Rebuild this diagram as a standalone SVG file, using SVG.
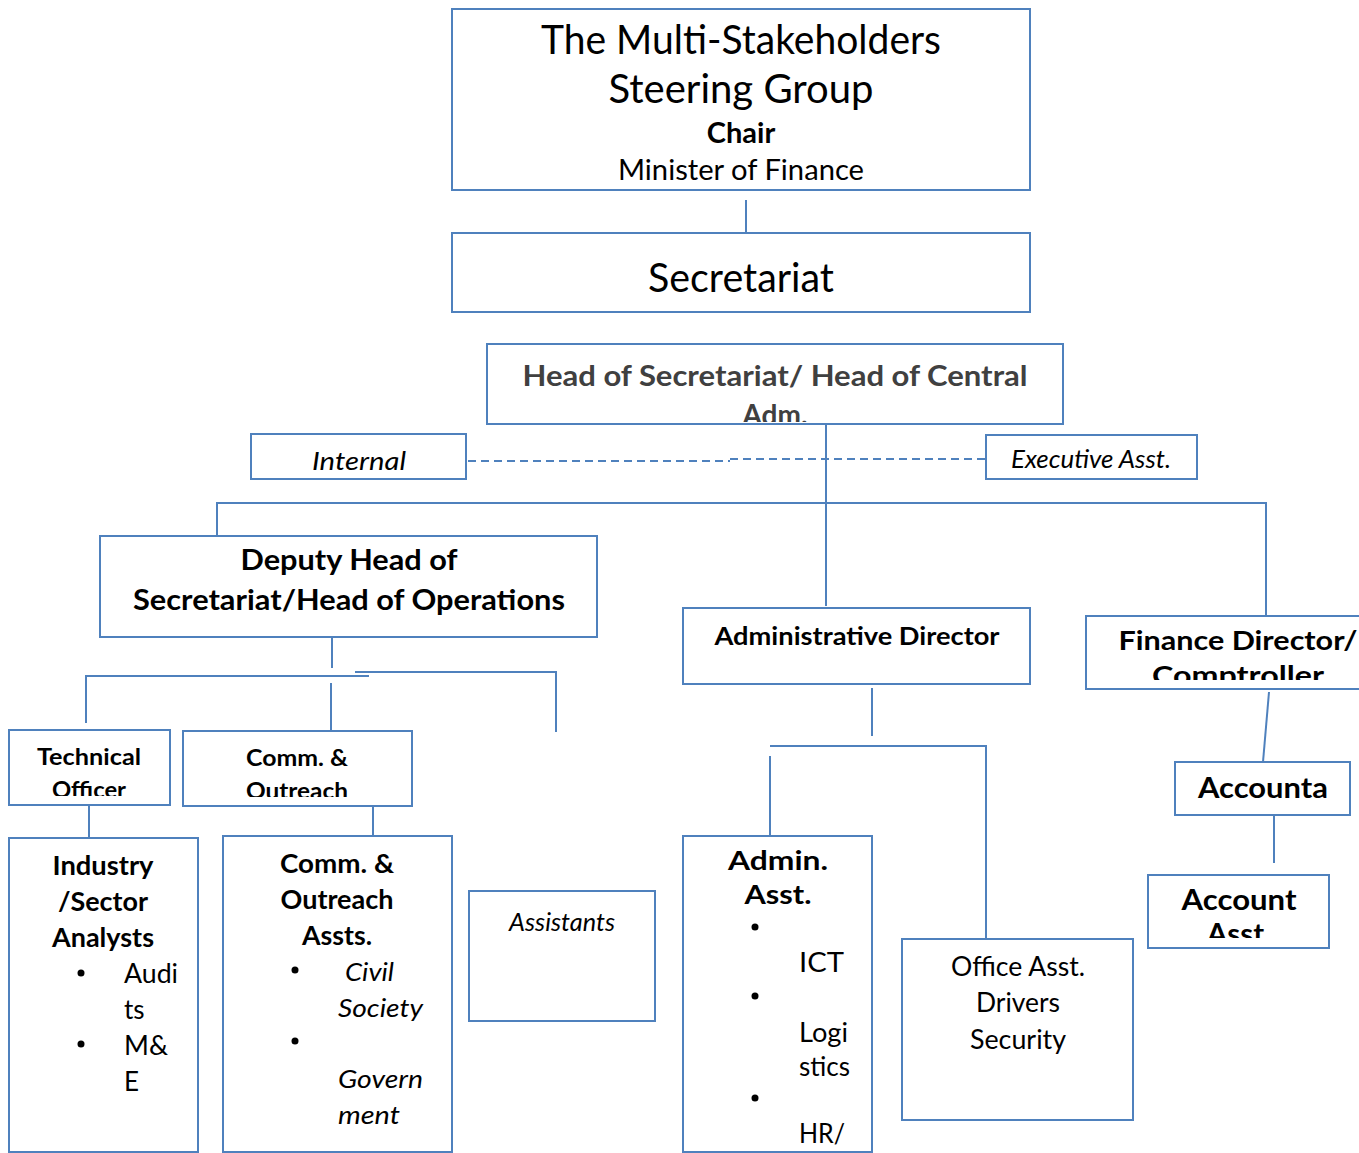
<svg xmlns="http://www.w3.org/2000/svg" width="1359" height="1153" viewBox="0 0 1359 1153">
<style>
.box{fill:#fff;stroke:#4f81bd;stroke-width:2}
.ln{fill:none;stroke:#4f81bd;stroke-width:2}
.dash{fill:none;stroke:#4f81bd;stroke-width:2;stroke-dasharray:8 5}
text{font-family:Lato,"Open Sans","Liberation Sans",sans-serif;fill:#000}
.c{text-anchor:middle}
.b{font-weight:bold}
.i{font-style:italic}
</style>
<defs>
<clipPath id="cHead"><rect x="488" y="345" width="574" height="77"/></clipPath>
<clipPath id="cTech"><rect x="10" y="731" width="159" height="65"/></clipPath>
<clipPath id="cComm"><rect x="184" y="732" width="227" height="65"/></clipPath>
<clipPath id="cFin"><rect x="1087" y="617" width="272" height="63"/></clipPath>
<clipPath id="cAcc"><rect x="1149" y="876" width="179" height="62"/></clipPath>
<clipPath id="cCA"><rect x="224" y="837" width="227" height="304"/></clipPath>
</defs>
<g id="connectors">
<line class="ln" x1="746" y1="200" x2="746" y2="232"/>
<line class="ln" x1="826" y1="421" x2="826" y2="606"/>
<polyline class="dash" points="468,461 730,461"/>
<polyline class="dash" points="730,459 985,459"/>
<polyline class="ln" points="217,535 217,503 1266,503 1266,616"/>
<line class="ln" x1="332" y1="637" x2="332" y2="668"/>
<polyline class="ln" points="86,723 86,676 369,676"/>
<polyline class="ln" points="355,672 556,672 556,732"/>
<line class="ln" x1="331" y1="683" x2="331" y2="731"/>
<line class="ln" x1="89" y1="806" x2="89" y2="838"/>
<line class="ln" x1="373" y1="806" x2="373" y2="836"/>
<line class="ln" x1="872" y1="688" x2="872" y2="736"/>
<polyline class="ln" points="770,746 986,746 986,939"/>
<line class="ln" x1="770" y1="756" x2="770" y2="836"/>
<line class="ln" x1="1269" y1="692" x2="1263" y2="762"/>
<line class="ln" x1="1236" y1="765" x2="1268" y2="765"/>
<line class="ln" x1="1274" y1="815" x2="1274" y2="863"/>
</g>
<g id="steering">
<rect class="box" x="452" y="9" width="578" height="181"/>
<text class="c" x="741" y="54" font-size="40" textLength="400" lengthAdjust="spacingAndGlyphs">The Multi-Stakeholders</text>
<text class="c" x="741" y="103" font-size="40" textLength="265" lengthAdjust="spacingAndGlyphs">Steering Group</text>
<text class="c b" x="741" y="143" font-size="29">Chair</text>
<text class="c" x="741" y="180" font-size="28" textLength="246" lengthAdjust="spacingAndGlyphs">Minister of Finance</text>
</g>
<g id="secretariat">
<rect class="box" x="452" y="233" width="578" height="79"/>
<text class="c" x="741" y="292" font-size="40" textLength="186" lengthAdjust="spacingAndGlyphs">Secretariat</text>
</g>
<g id="head">
<rect class="box" x="487" y="344" width="576" height="80"/>
<g clip-path="url(#cHead)">
<text class="c b" x="775" y="386" font-size="28" style="fill:#404040" textLength="505" lengthAdjust="spacingAndGlyphs">Head of Secretariat/ Head of Central</text>
<text class="c b" x="775" y="425" font-size="28" style="fill:#404040">Adm.</text>
</g>
</g>
<g id="internal">
<rect class="box" x="251" y="434" width="215" height="45"/>
<text class="c i" x="359" y="470" font-size="26" textLength="94" lengthAdjust="spacingAndGlyphs">Internal</text>
</g>
<g id="executive">
<rect class="box" x="986" y="435" width="211" height="44"/>
<text class="c i" x="1091" y="468" font-size="26" textLength="160" lengthAdjust="spacingAndGlyphs">Executive Asst.</text>
</g>
<g id="deputy">
<rect class="box" x="100" y="536" width="497" height="101"/>
<text class="c b" x="349" y="570" font-size="28" textLength="217" lengthAdjust="spacingAndGlyphs">Deputy Head of</text>
<text class="c b" x="349" y="610" font-size="28" textLength="432" lengthAdjust="spacingAndGlyphs">Secretariat/Head of Operations</text>
</g>
<g id="technical">
<rect class="box" x="9" y="730" width="161" height="75"/>
<g clip-path="url(#cTech)">
<text class="c b" x="89" y="765" font-size="23" textLength="104" lengthAdjust="spacingAndGlyphs">Technical</text>
<text class="c b" x="89" y="798" font-size="23" textLength="74" lengthAdjust="spacingAndGlyphs">Officer</text>
</g>
</g>
<g id="comm">
<rect class="box" x="183" y="731" width="229" height="75"/>
<g clip-path="url(#cComm)">
<text class="c b" x="297" y="766" font-size="23" textLength="102" lengthAdjust="spacingAndGlyphs">Comm. &amp;</text>
<text class="c b" x="297" y="799" font-size="23" textLength="102" lengthAdjust="spacingAndGlyphs">Outreach</text>
</g>
</g>
<g id="industry">
<rect class="box" x="9" y="838" width="189" height="314"/>
<text class="c b" x="103" y="875" font-size="26" textLength="101" lengthAdjust="spacingAndGlyphs">Industry</text>
<text class="c b" x="103" y="911" font-size="26" textLength="90" lengthAdjust="spacingAndGlyphs">/Sector</text>
<text class="c b" x="103" y="947" font-size="26" textLength="102" lengthAdjust="spacingAndGlyphs">Analysts</text>
<circle cx="81" cy="973" r="3.5"/>
<circle cx="81" cy="1044" r="3.5"/>
<text x="124" y="983" font-size="26" textLength="54" lengthAdjust="spacingAndGlyphs">Audi</text>
<text x="124" y="1019" font-size="26">ts</text>
<text x="124" y="1055" font-size="26" textLength="44" lengthAdjust="spacingAndGlyphs">M&amp;</text>
<text x="124" y="1091" font-size="26">E</text>
</g>
<g id="commAssts">
<rect class="box" x="223" y="836" width="229" height="316"/>
<text class="c b" x="337" y="873" font-size="26" textLength="114" lengthAdjust="spacingAndGlyphs">Comm. &amp;</text>
<text class="c b" x="337" y="909" font-size="26" textLength="113" lengthAdjust="spacingAndGlyphs">Outreach</text>
<text class="c b" x="337" y="945" font-size="26" textLength="70" lengthAdjust="spacingAndGlyphs">Assts.</text>
<circle cx="295" cy="970" r="3.5"/>
<circle cx="295" cy="1041" r="3.5"/>
<g clip-path="url(#cCA)">
<text class="i" x="345" y="981" font-size="26" textLength="49" lengthAdjust="spacingAndGlyphs">Civil</text>
<text class="i" x="338" y="1017" font-size="26" textLength="85" lengthAdjust="spacingAndGlyphs">Society</text>
<text class="i" x="338" y="1088" font-size="26" textLength="85" lengthAdjust="spacingAndGlyphs">Govern</text>
<text class="i" x="338" y="1124" font-size="26" textLength="62" lengthAdjust="spacingAndGlyphs">ment</text>
<text class="i" x="338" y="1160" font-size="26" textLength="110" lengthAdjust="spacingAndGlyphs">Relations</text>
</g>
</g>
<g id="assistants">
<rect class="box" x="469" y="891" width="186" height="130"/>
<text class="c i" x="562" y="931" font-size="26" textLength="106" lengthAdjust="spacingAndGlyphs">Assistants</text>
</g>
<g id="adminDirector">
<rect class="box" x="683" y="608" width="347" height="76"/>
<text class="c b" x="857" y="645" font-size="24" textLength="285" lengthAdjust="spacingAndGlyphs">Administrative Director</text>
</g>
<g id="adminAsst">
<rect class="box" x="683" y="836" width="189" height="316"/>
<text class="c b" x="778" y="870" font-size="27" textLength="100" lengthAdjust="spacingAndGlyphs">Admin.</text>
<text class="c b" x="778" y="904" font-size="27" textLength="67" lengthAdjust="spacingAndGlyphs">Asst.</text>
<circle cx="755" cy="927" r="3.5"/>
<circle cx="755" cy="996" r="3.5"/>
<circle cx="755" cy="1098" r="3.5"/>
<text x="799" y="972" font-size="27" textLength="45" lengthAdjust="spacingAndGlyphs">ICT</text>
<text x="799" y="1042" font-size="27" textLength="49" lengthAdjust="spacingAndGlyphs">Logi</text>
<text x="799" y="1076" font-size="27" textLength="51" lengthAdjust="spacingAndGlyphs">stics</text>
<text x="799" y="1143" font-size="27" textLength="46" lengthAdjust="spacingAndGlyphs">HR/</text>
</g>
<g id="office">
<rect class="box" x="902" y="939" width="231" height="181"/>
<text class="c" x="1018" y="976" font-size="26" textLength="134" lengthAdjust="spacingAndGlyphs">Office Asst.</text>
<text class="c" x="1018" y="1012" font-size="26" textLength="84" lengthAdjust="spacingAndGlyphs">Drivers</text>
<text class="c" x="1018" y="1049" font-size="26" textLength="96" lengthAdjust="spacingAndGlyphs">Security</text>
</g>
<g id="finance">
<rect class="box" x="1086" y="616" width="280" height="73"/>
<g clip-path="url(#cFin)">
<text class="c b" x="1238" y="650" font-size="27" textLength="239" lengthAdjust="spacingAndGlyphs">Finance Director/</text>
<text class="c b" x="1238" y="685" font-size="27" textLength="172" lengthAdjust="spacingAndGlyphs">Comptroller</text>
</g>
</g>
<g id="accounta">
<rect class="box" x="1175" y="762" width="175" height="53"/>
<text class="c b" x="1263" y="798" font-size="28" textLength="130" lengthAdjust="spacingAndGlyphs">Accounta</text>
</g>
<g id="accountAsst">
<rect class="box" x="1148" y="875" width="181" height="73"/>
<g clip-path="url(#cAcc)">
<text class="c b" x="1239" y="910" font-size="28" textLength="115" lengthAdjust="spacingAndGlyphs">Account</text>
<text class="c b" x="1239" y="944" font-size="28" textLength="64" lengthAdjust="spacingAndGlyphs">Asst.</text>
</g>
</g>
</svg>
